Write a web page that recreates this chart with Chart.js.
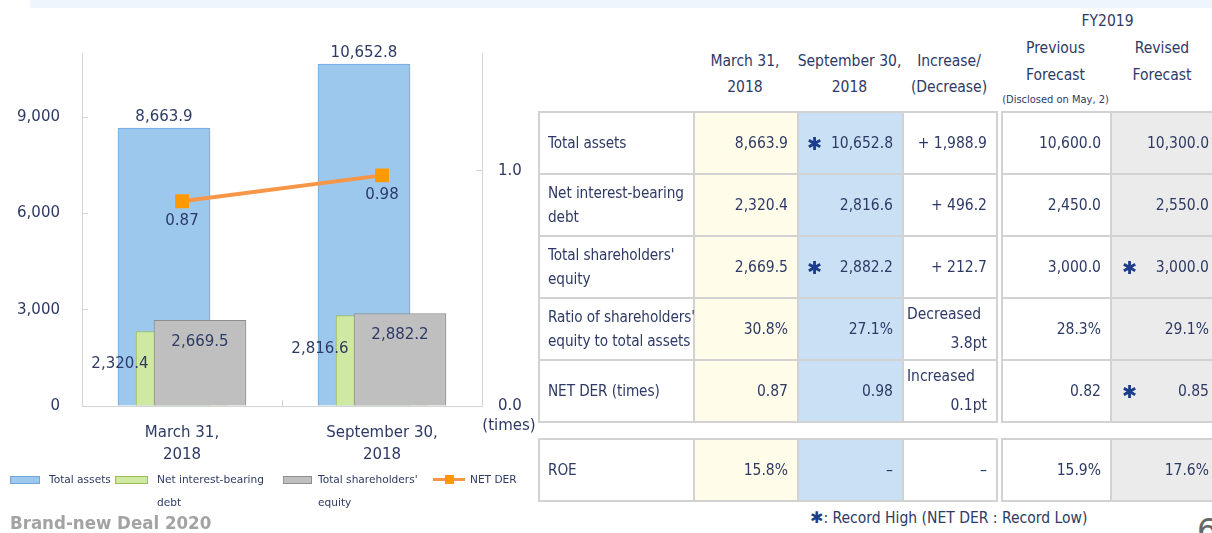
<!DOCTYPE html>
<html>
<head>
<meta charset="utf-8">
<script src="https://cdn.jsdelivr.net/npm/chart.js@4.4.1/dist/chart.umd.min.js"></script>
<style>
  body { margin: 0; width: 1212px; height: 533px; overflow: hidden; position: relative; background: #fff;
         color: #2e3a65; font-family: "DejaVu Sans Condensed", "DejaVu Sans", sans-serif; }
  .band { position: absolute; left: 30px; top: 0; width: 1182px; height: 8px; background: #eef5fc; }
  #chartBox { position: absolute; left: 0; top: 0; width: 545px; height: 475px; }
  .times { position: absolute; left: 470px; top: 414px; width: 78px; text-align: center;
           font: 15px "DejaVu Sans", sans-serif; line-height: 22px; }
  .lg-sw { position: absolute; top: 476px; height: 6px; border: 1px solid; }
  .lg-tx { position: absolute; top: 468px; font: 10.6px "DejaVu Sans", sans-serif; line-height: 23px; }
  .brand { position: absolute; left: 10px; top: 511px; font-weight: bold; font-size: 18.5px; line-height: 24px; color: #a3a3a3; }
  .hd { position: absolute; text-align: center; font-size: 15.5px; line-height: 26px; white-space: nowrap; }
  .hd small { font-size: 11px; display: block; line-height: 22px; }
  table.kpi { position: absolute; left: 538px; top: 111px; width: 677px; border-collapse: collapse; table-layout: fixed; font-size: 15.5px; }
  table.kpi td { border: 2px solid #d2d2d2; padding: 0 9px 0 8px; text-align: right; white-space: nowrap; overflow: hidden; }
  table.kpi tr { height: 62px; }
  table.kpi td.lbl { text-align: left; line-height: 24px; font-size: 15.2px; letter-spacing: -0.1px; padding-right: 0; overflow: visible; }
  table.kpi td.y { background: #fffdea; }
  table.kpi td.b { background: #c9e0f5; }
  table.kpi td.g { background: #ebebeb; padding-right: 6px; padding-left: 10px; }
  table.kpi td.gap { border-top: none; border-bottom: none; background: #fff; padding: 0; }
  table.kpi tr.sep { height: 17px; }
  table.kpi tr.sep td { border: none; padding: 0; }
  table.kpi td.chg { line-height: 29px; padding-left: 3px; }
  table.kpi td.chg .l { text-align: left; }
  .sv { display: flex; justify-content: space-between; align-items: center; }
  .star { font-family: "DejaVu Sans", sans-serif; font-size: 18px; color: #1d3c8c; }
  .note { position: absolute; left: 810px; top: 505px; font-size: 15.5px; line-height: 26px; white-space: nowrap; }
  .note .star { font-size: 16px; }
  .page { position: absolute; left: 1197px; top: 511px; font: 32px "DejaVu Sans", sans-serif; color: #666; }
</style>
</head>
<body>
<div class="band"></div>
<div id="chartBox"><canvas id="balanceChart"></canvas></div>
<div class="times">(times)</div>

<div class="lg-sw" style="left:10px;width:28px;background:#9dc8ee;border-color:#6fa7dc"></div>
<div class="lg-tx" style="left:49px">Total assets</div>
<div class="lg-sw" style="left:115px;width:31px;background:#cfe8a2;border-color:#9bbb59"></div>
<div class="lg-tx" style="left:157px">Net interest-bearing<br>debt</div>
<div class="lg-sw" style="left:283px;width:27px;background:#bfbfbf;border-color:#8e8e8e"></div>
<div class="lg-tx" style="left:318px">Total shareholders'<br>equity</div>
<div style="position:absolute;left:433px;top:478px;width:32px;height:3px;background:#f79646"></div>
<div style="position:absolute;left:445px;top:475px;width:9px;height:9px;background:#ff9900"></div>
<div class="lg-tx" style="left:470px">NET DER</div>

<div class="brand">Brand-new Deal 2020</div>

<div class="hd" style="left:693px;width:104px;top:48px">March 31,<br>2018</div>
<div class="hd" style="left:797px;width:105px;top:48px">September 30,<br>2018</div>
<div class="hd" style="left:902px;width:94px;top:48px">Increase/<br>(Decrease)</div>
<div class="hd" style="left:1001px;width:213px;top:8px">FY2019</div>
<div class="hd" style="left:1001px;width:109px;top:35px;line-height:27px">Previous<br>Forecast<small>(Disclosed on May, 2)</small></div>
<div class="hd" style="left:1110px;width:104px;top:35px;line-height:27px">Revised<br>Forecast</div>

<table class="kpi">
  <colgroup>
    <col style="width:155px"><col style="width:104px"><col style="width:105px"><col style="width:94px">
    <col style="width:5px"><col style="width:109px"><col style="width:105px">
  </colgroup>
  <tr><td class="lbl">Total assets</td><td class="y">8,663.9</td>
      <td class="b"><div class="sv"><span class="star">✱</span><span>10,652.8</span></div></td>
      <td>+ 1,988.9</td><td class="gap"></td><td>10,600.0</td><td class="g">10,300.0</td></tr>
  <tr><td class="lbl">Net interest-bearing<br>debt</td><td class="y">2,320.4</td><td class="b">2,816.6</td>
      <td>+ 496.2</td><td class="gap"></td><td>2,450.0</td><td class="g">2,550.0</td></tr>
  <tr><td class="lbl">Total shareholders'<br>equity</td><td class="y">2,669.5</td>
      <td class="b"><div class="sv"><span class="star">✱</span><span>2,882.2</span></div></td>
      <td>+ 212.7</td><td class="gap"></td><td>3,000.0</td>
      <td class="g"><div class="sv"><span class="star">✱</span><span>3,000.0</span></div></td></tr>
  <tr><td class="lbl">Ratio of shareholders'<br>equity to total assets</td><td class="y">30.8%</td><td class="b">27.1%</td>
      <td class="chg"><div class="l">Decreased</div><div>3.8pt</div></td><td class="gap"></td><td>28.3%</td><td class="g">29.1%</td></tr>
  <tr><td class="lbl">NET DER (times)</td><td class="y">0.87</td><td class="b">0.98</td>
      <td class="chg"><div class="l">Increased</div><div>0.1pt</div></td><td class="gap"></td><td>0.82</td>
      <td class="g"><div class="sv"><span class="star">✱</span><span>0.85</span></div></td></tr>
  <tr class="sep"><td colspan="7"></td></tr>
  <tr><td class="lbl">ROE</td><td class="y">15.8%</td><td class="b">–</td>
      <td>–</td><td class="gap"></td><td>15.9%</td><td class="g">17.6%</td></tr>
</table>

<div class="note"><span class="star">✱</span>: Record High (NET DER : Record Low)</div>
<div class="page">6</div>

<script>
// chart data
const categories = [['March 31,', '2018'], ['September 30,', '2018']];
const totalAssets = [8663.9, 10652.8];
const netDebt = [2320.4, 2816.6];
const equity = [2669.5, 2882.2];
const netDer = [0.87, 0.98];
const leftTicks = [0, 3000, 6000, 9000];
const rightTicks = [0, 1];

const textColor = '#2e3a65';
const axisColor = '#d4d4d4';
const BOX_W = 545, BOX_H = 475;

const fmtAmount = (v) => v.toLocaleString('en-US', { minimumFractionDigits: 1, maximumFractionDigits: 1 });
const fmtTimes = (v) => v.toFixed(2);

// Excel-style overlapping bars: shift each series sideways
const barShift = {
  id: 'barShift',
  afterDatasetsUpdate(chart) {
    chart.data.datasets.forEach((ds, i) => {
      if (!ds.shift) return;
      chart.getDatasetMeta(i).data.forEach((el) => { el.x += ds.shift; });
    });
  }
};

const valueLabels = {
  id: 'valueLabels',
  afterDatasetsDraw(chart) {
    const { ctx } = chart;
    ctx.save();
    ctx.font = '15px "DejaVu Sans"';
    ctx.fillStyle = textColor;
    ctx.textAlign = 'center';
    ctx.textBaseline = 'middle';
    chart.data.datasets.forEach((ds, i) => {
      const [dx, dy] = ds.labelOffset;
      chart.getDatasetMeta(i).data.forEach((el, j) => {
        ctx.fillText(ds.fmt(ds.data[j]), el.x + dx, el.y + dy);
      });
    });
    ctx.restore();
  }
};

const tickGrid = { display: true, drawOnChartArea: false, drawTicks: true, tickLength: -6, color: axisColor };

new Chart(document.getElementById('balanceChart'), {
  data: {
    labels: categories,
    datasets: [
      {
        type: 'line', label: 'NET DER', data: netDer, yAxisID: 'y1', order: 0,
        borderColor: '#f79646', borderWidth: 4, pointStyle: 'rect', pointRadius: 7,
        pointBackgroundColor: '#ff9900', pointBorderColor: '#ff9900',
        fmt: fmtTimes, labelOffset: [0, 20]
      },
      {
        type: 'bar', label: "Total shareholders' equity", data: equity, yAxisID: 'y', order: 1,
        backgroundColor: '#bfbfbf', borderColor: '#8e8e8e', borderWidth: 1,
        shift: 18, fmt: fmtAmount, labelOffset: [0, 22]
      },
      {
        type: 'bar', label: 'Net interest-bearing debt', data: netDebt, yAxisID: 'y', order: 2,
        backgroundColor: '#cfe8a2', borderColor: '#9bbb59', borderWidth: 1,
        shift: 0, fmt: fmtAmount, labelOffset: [-62, 33]
      },
      {
        type: 'bar', label: 'Total assets', data: totalAssets, yAxisID: 'y', order: 3,
        backgroundColor: '#9dc8ee', borderColor: '#6fa7dc', borderWidth: 1,
        shift: -18, fmt: fmtAmount, labelOffset: [0, -11]
      }
    ]
  },
  options: {
    responsive: true,
    maintainAspectRatio: false,
    animation: false,
    layout: { padding: { top: 53, left: 0, right: 0, bottom: 0 } },
    datasets: { bar: { grouped: false, barThickness: 92 } },
    plugins: { legend: { display: false }, tooltip: { enabled: false } },
    scales: {
      x: {
        offset: true,
        grid: { ...tickGrid, offset: true },
        border: { color: axisColor },
        ticks: { color: textColor, padding: 22, font: { family: 'DejaVu Sans', size: 15, lineHeight: 1.4667 } },
        afterFit: (s) => { s.height = BOX_H - 406; }
      },
      y: {
        position: 'left', min: 0, max: 11000,
        grid: tickGrid,
        border: { color: axisColor },
        ticks: {
          color: textColor, padding: 28, font: { family: 'DejaVu Sans', size: 15 },
          callback: (v) => v.toLocaleString('en-US')
        },
        afterBuildTicks: (s) => { s.ticks = leftTicks.map((v) => ({ value: v })); },
        afterFit: (s) => { s.width = 82; }
      },
      y1: {
        position: 'right', min: 0, max: 1.5,
        grid: tickGrid,
        border: { color: axisColor },
        ticks: {
          color: textColor, padding: 22, font: { family: 'DejaVu Sans', size: 15 },
          callback: (v) => v.toFixed(1)
        },
        afterBuildTicks: (s) => { s.ticks = rightTicks.map((v) => ({ value: v })); },
        afterFit: (s) => { s.width = BOX_W - 482; }
      }
    }
  },
  plugins: [barShift, valueLabels]
});
</script>
</body>
</html>
